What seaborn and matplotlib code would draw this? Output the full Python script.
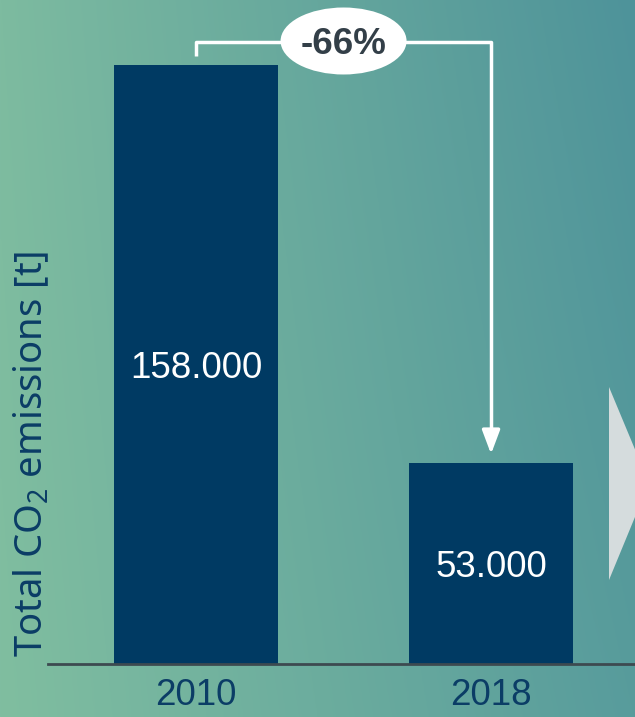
import numpy as np
import pandas as pd
import matplotlib
matplotlib.use("Agg")
import matplotlib.pyplot as plt
from matplotlib.patches import Ellipse, Polygon
import seaborn as sns

# Data
years = ["2010", "2018"]
emissions = [158000, 53000]
y_label = "Total CO$_\\mathregular{2}$ emissions [t]"

DARK_BLUE = "#003a63"
TEXT_BLUE = "#0b3d66"
SLATE = "#333f48"

sns.set_theme(style="white")
plt.rcParams["font.family"] = ["Liberation Sans", "DejaVu Sans"]
plt.rcParams["mathtext.fontset"] = "custom"
plt.rcParams["mathtext.rm"] = "Noto Sans"

df = pd.DataFrame({"year": years, "emissions": emissions})

fig = plt.figure(figsize=(6.35, 7.17), dpi=100)

# Soft teal gradient background
bg = fig.add_axes([0, 0, 1, 1], zorder=-10)
tl, tr = np.array([125, 187, 160]), np.array([78, 147, 154])
bl, br = np.array([128, 190, 160]), np.array([88, 156, 156])
u = np.linspace(0, 1, 256)[None, :, None]
v = np.linspace(0, 1, 256)[:, None, None]
grad = ((1 - v) * ((1 - u) * tl + u * tr) + v * ((1 - u) * bl + u * br)) / 255.0
bg.imshow(grad, aspect="auto", extent=[0, 1, 0, 1], origin="upper")
bg.set_axis_off()

ax = fig.add_axes([48 / 635, 53 / 717, 1 - 48 / 635, 1 - 53 / 717])
ax.set_facecolor("none")

sns.barplot(data=df, x="year", y="emissions", order=years, color=DARK_BLUE,
            saturation=1, width=0.556, linewidth=0, edgecolor="none", ax=ax)

ymax = max(emissions) * 664 / 599
ax.set_ylim(0, ymax)
ax.set_xlim(-0.502, 1.488)

# Value labels centred inside the bars
for bar, val in zip(ax.patches, emissions):
    ax.text(bar.get_x() + bar.get_width() / 2, val / 2,
            f"{val:,.0f}".replace(",", "."), ha="center", va="center_baseline",
            color="white", fontsize=26.5, zorder=4)

# Axes styling
for side in ["left", "top", "right"]:
    ax.spines[side].set_visible(False)
ax.spines["bottom"].set_color("#3d4a50")
ax.spines["bottom"].set_linewidth(2)
ax.set_yticks([])
ax.set_xlabel("")
ax.set_ylabel("")
ax.tick_params(axis="x", length=0, pad=10, labelsize=26.5, labelcolor=TEXT_BLUE)

fig.text(0.049, 0.367, y_label, rotation=90, ha="center", va="center",
         fontsize=27.5, fontweight="normal", color=TEXT_BLUE,
         family=["Noto Sans", "DejaVu Sans"])

# Bracket with change arrow between the two bars
unit = max(emissions) / 599.0  # value per pixel
gap = 9 * unit
top_y = max(emissions) + 23 * unit
x0, x1 = 0, 1
ax.plot([x0, x0, x1, x1], [emissions[0] + gap, top_y, top_y, emissions[1] + gap + 14 * unit],
        color="white", lw=2.5, solid_capstyle="butt", clip_on=False, zorder=5)
ax.annotate("", xy=(x1, emissions[1] + gap), xytext=(x1, emissions[1] + gap + 18 * unit),
            arrowprops=dict(arrowstyle="-|>,head_length=1.2,head_width=0.45",
                            color="white", lw=2.5, shrinkA=0, shrinkB=0),
            annotation_clip=False, zorder=6)

change = (emissions[1] - emissions[0]) / emissions[0] * 100
ell = Ellipse(((x0 + x1) / 2, top_y + 1 * unit), width=126 / 295, height=67 * unit,
              facecolor="white", edgecolor="none", clip_on=False, zorder=7)
ax.add_patch(ell)
ax.text((x0 + x1) / 2, top_y + 1 * unit, f"{change:.0f}%", ha="center", va="center_baseline",
        fontsize=26.5, fontweight="bold", color=SLATE, zorder=8, clip_on=False)

# Light grey pointer on the right edge
W, H = 635, 717
tri = Polygon([(609 / W, 1 - 387 / H), (649 / W, 1 - 483 / H), (609 / W, 1 - 580 / H)],
              closed=True, transform=fig.transFigure, facecolor="#d5dcdd",
              edgecolor="none", zorder=3)
fig.patches.append(tri)

fig.savefig("out.png", dpi=100)
